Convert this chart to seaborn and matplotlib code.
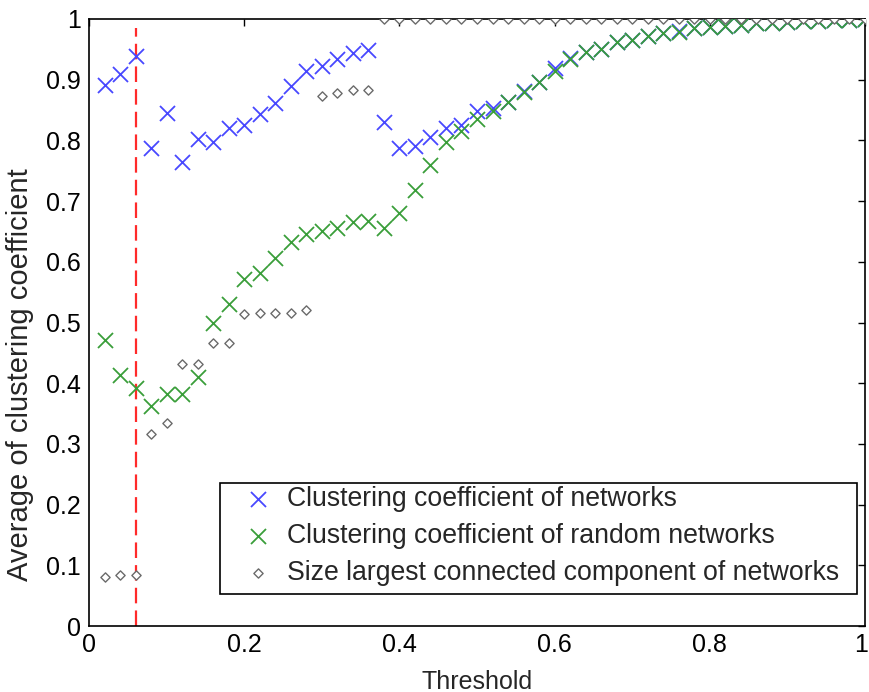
import matplotlib
matplotlib.use("Agg")
import matplotlib.pyplot as plt
from matplotlib.patches import Rectangle
from matplotlib.transforms import ScaledTranslation
import seaborn as sns
import pandas as pd

thresholds = [0.02, 0.04, 0.06, 0.08, 0.10, 0.12, 0.14, 0.16, 0.18, 0.20,
              0.22, 0.24, 0.26, 0.28, 0.30, 0.32, 0.34, 0.36, 0.38, 0.40,
              0.42, 0.44, 0.46, 0.48, 0.50, 0.52, 0.54, 0.56, 0.58, 0.60,
              0.62, 0.64, 0.66, 0.68, 0.70, 0.72, 0.74, 0.76, 0.78, 0.80,
              0.82, 0.84, 0.86, 0.88, 0.90, 0.92, 0.94, 0.96, 0.98, 1.00]

cc_networks = [0.891, 0.910, 0.939, 0.788, 0.845, 0.764, 0.802, 0.798, 0.820, 0.825,
               0.843, 0.861, 0.889, 0.914, 0.922, 0.934, 0.944, 0.949, 0.830, 0.787,
               0.790, 0.805, 0.820, 0.826, 0.848, 0.853, 0.863, 0.881, 0.897, 0.919,
               0.936, 0.945, 0.950, 0.962, 0.965, 0.972, 0.977, 0.980, 0.985, 0.987,
               0.988, 0.990, 0.993, 0.993, 0.995, 0.996, 0.997, 0.998, 0.999, 1.000]

cc_random = [0.471, 0.414, 0.392, 0.362, 0.382, 0.382, 0.410, 0.499, 0.530, 0.572,
             0.581, 0.606, 0.633, 0.646, 0.651, 0.656, 0.665, 0.667, 0.656, 0.680,
             0.719, 0.760, 0.798, 0.815, 0.836, 0.848, 0.863, 0.879, 0.897, 0.914,
             0.934, 0.945, 0.950, 0.962, 0.965, 0.972, 0.977, 0.979, 0.985, 0.987,
             0.988, 0.990, 0.993, 0.993, 0.995, 0.996, 0.997, 0.998, 0.999, 1.000]

lcc_size = [0.081, 0.084, 0.084, 0.316, 0.334, 0.432, 0.432, 0.466, 0.466, 0.514,
            0.516, 0.516, 0.516, 0.521, 0.873, 0.878, 0.883, 0.883, 1.000, 1.000,
            1.000, 1.000, 1.000, 1.000, 1.000, 1.000, 1.000, 1.000, 1.000, 1.000,
            1.000, 1.000, 1.000, 1.000, 1.000, 1.000, 1.000, 1.000, 1.000, 1.000,
            1.000, 1.000, 1.000, 1.000, 1.000, 1.000, 1.000, 1.000, 1.000, 1.000]

series_labels = ["Clustering coefficient of networks",
                 "Clustering coefficient of random networks",
                 "Size largest connected component of networks"]

x_ticks = [0, 0.2, 0.4, 0.6, 0.8, 1.0]
x_tick_labels = ["0", "0.2", "0.4", "0.6", "0.8", "1"]
y_ticks = [0, 0.1, 0.2, 0.3, 0.4, 0.5, 0.6, 0.7, 0.8, 0.9, 1.0]
y_tick_labels = ["0", "0.1", "0.2", "0.3", "0.4", "0.5", "0.6", "0.7", "0.8", "0.9", "1"]
chosen_threshold = 0.06

sns.set_style("white")
plt.rcParams['font.family'] = ['Liberation Sans', 'DejaVu Sans']

df = pd.DataFrame({"threshold": thresholds, "cc_networks": cc_networks,
                   "cc_random": cc_random, "lcc_size": lcc_size})

fig = plt.figure(figsize=(8.69, 6.92), dpi=100)
ax = fig.add_axes([89 / 869, 66 / 692, 776 / 869, 607 / 692])

sns.scatterplot(data=df, x="threshold", y="cc_networks", marker="x", s=117,
                color="#4848ff", linewidth=1.3, ax=ax, label=series_labels[0], zorder=3)
sns.scatterplot(data=df, x="threshold", y="cc_random", marker="x", s=117,
                color="#3a9e3a", linewidth=1.3, ax=ax, label=series_labels[1], zorder=4)
sns.scatterplot(data=df, x="threshold", y="lcc_size", marker="D", s=22,
                facecolor="white", edgecolor="#6a6a6a", linewidth=1.0, ax=ax,
                label=series_labels[2], zorder=5)

ax.axvline(chosen_threshold, ymin=0, ymax=0.985, color="#ff2a2a", lw=1.6,
           dashes=(7.0, 3.2), zorder=2)

ax.set_xlim(0, 1)
ax.set_ylim(0, 1)
ax.set_xticks(x_ticks)
ax.set_xticklabels(x_tick_labels)
ax.set_yticks(y_ticks)
ax.set_yticklabels(y_tick_labels)
ax.tick_params(direction="in", length=5, width=1, top=True, right=True,
               labelsize=18, colors="black")
ax.tick_params(axis="y", pad=6)
ax.tick_params(axis="x", pad=5)
for sp in ax.spines.values():
    sp.set_color("black")
    sp.set_linewidth(1.2)

last_label = ax.get_xticklabels()[-1]
last_label.set_transform(last_label.get_transform() +
                         ScaledTranslation(-4 / 100, 0, fig.dpi_scale_trans))

ax.set_xlabel("Threshold", fontsize=18)
ax.xaxis.set_label_coords(0.5, -0.072)
ax.set_ylabel("Average of clustering coefficient", fontsize=21,
              ha="center", va="center")
ax.yaxis.set_label_coords((20 - 89) / 776, (626 - 375) / 607)

leg = ax.legend(loc="upper left", bbox_to_anchor=((244.7 - 89) / 776, (626 - 485.8) / 607),
                borderaxespad=0, borderpad=0, frameon=False, fontsize=19.2,
                handlelength=1.0, handletextpad=0.585, labelspacing=0.415,
                scatterpoints=1)
leg.set_zorder(10)

frame = Rectangle(((220 - 89) / 776, (626 - 594) / 607), (857 - 220) / 776,
                  (594 - 483) / 607, transform=ax.transAxes, facecolor="white",
                  edgecolor="black", lw=1.2, zorder=9, clip_on=False)
ax.add_patch(frame)

fig.savefig("out.png", dpi=100, facecolor="white")
